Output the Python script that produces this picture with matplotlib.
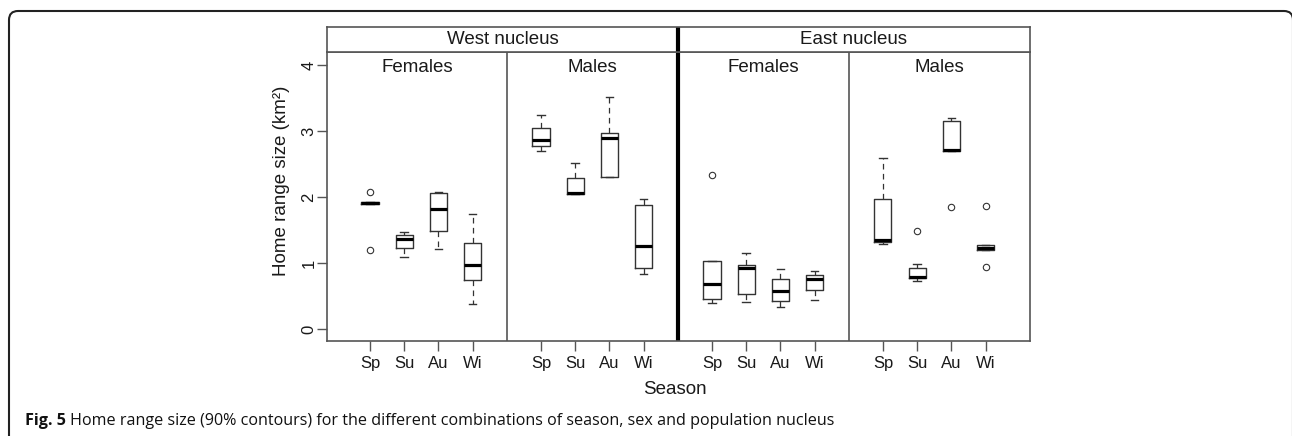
import matplotlib
matplotlib.use("Agg")
import matplotlib.pyplot as plt
from matplotlib.path import Path
from matplotlib.patches import PathPatch
from matplotlib.transforms import IdentityTransform

# groups: West females, West males, East females, East males
nuclei = ["West nucleus", "East nucleus"]
sexes = ["Females", "Males"]
seasons = ["Sp", "Su", "Au", "Wi"]

# box statistics (km^2), 4 groups x 4 seasons
q1 = [1.90, 1.23, 1.48, 0.74, 2.78, 2.05, 2.31, 0.93,
      0.45, 0.53, 0.43, 0.59, 1.32, 0.77, 2.70, 1.19]
med = [1.91, 1.37, 1.82, 0.97, 2.86, 2.06, 2.89, 1.25,
       0.68, 0.93, 0.58, 0.76, 1.35, 0.79, 2.71, 1.22]
q3 = [1.92, 1.42, 2.06, 1.31, 3.05, 2.29, 2.97, 1.88,
      1.03, 0.97, 0.76, 0.82, 1.97, 0.92, 3.15, 1.28]
whislo = [1.90, 1.09, 1.21, 0.38, 2.70, 2.05, 2.30, 0.84,
          0.40, 0.41, 0.33, 0.44, 1.29, 0.73, 2.70, 1.19]
whishi = [1.92, 1.47, 2.08, 1.74, 3.24, 2.52, 3.52, 1.97,
          1.03, 1.15, 0.91, 0.88, 2.59, 0.98, 3.19, 1.28]
fliers = [[2.07, 1.19], [], [], [], [], [], [], [],
          [2.33], [], [], [], [], [1.48], [1.85], [1.86, 0.94]]

LINE = "#555555"
TXT = "#1a1a1a"
plt.rcParams["font.family"] = ["Liberation Sans", "DejaVu Sans"]

W, H = 1292, 436
fig = plt.figure(figsize=(W / 100, H / 100), dpi=100)

# pixel boxes of the panel region and the strip
x0, x1 = 327, 1030
ytop, ybot, ystrip = 52, 341, 27
ax = fig.add_axes([x0 / W, 1 - ybot / H, (x1 - x0) / W, (ybot - ytop) / H])
sax = fig.add_axes([x0 / W, 1 - ytop / H, (x1 - x0) / W, (ytop - ystrip) / H])

positions = [g * 5 + i + 1 for g in range(4) for i in range(len(seasons))]
stats = []
for k in range(len(med)):
    stats.append(dict(med=med[k], q1=q1[k], q3=q3[k], whislo=whislo[k],
                      whishi=whishi[k], fliers=fliers[k]))

ax.bxp(stats, positions=positions, widths=0.5, capwidths=0.22,
       manage_ticks=False,
       boxprops=dict(color="#333333", lw=1.0),
       whiskerprops=dict(color="#333333", lw=0.9, dashes=(4.5, 3.5)),
       capprops=dict(color="#333333", lw=1.0),
       medianprops=dict(color="black", lw=2.3, solid_capstyle="butt"),
       flierprops=dict(marker="o", markersize=4.6, markerfacecolor="none",
                       markeredgecolor="#333333", markeredgewidth=0.8))

ax.set_xlim(-0.257, 20.30)
ax.set_ylim(-0.182, 4.197)

# panel dividers
ax.axvline(5, color=LINE, lw=1.2)
ax.axvline(15, color=LINE, lw=1.2)
ax.axvline(10, color="black", lw=3.0)

# panel titles
for g in range(4):
    left = -0.257 if g == 0 else g * 5
    right = 20.30 if g == 3 else (g + 1) * 5
    ax.text((left + right) / 2, 0.945, sexes[g % 2], transform=ax.get_xaxis_transform(),
            ha="center", va="center", fontsize=13.5, color=TXT)

ax.set_xticks(positions)
ax.set_xticklabels(seasons * 4)
ax.set_yticks([0, 1, 2, 3, 4])
ax.set_yticklabels(["0", "1", "2", "3", "4"], rotation=90, va="center")
ax.tick_params(axis="both", direction="out", length=7, width=1.0, color=LINE,
               labelsize=12, labelcolor=TXT)
ax.tick_params(axis="x", pad=3.5)
ax.tick_params(axis="y", pad=0.5)
for sp in ax.spines.values():
    sp.set_color(LINE)
    sp.set_linewidth(1.2)

# strip on top
sax.set_xlim(-0.257, 20.30)
sax.set_ylim(0, 1)
sax.set_xticks([])
sax.set_yticks([])
for sp in sax.spines.values():
    sp.set_color(LINE)
    sp.set_linewidth(1.2)
sax.axvline(10, color="black", lw=3.0)
sax.text((-0.257 + 10) / 2, 0.5, nuclei[0], ha="center", va="center",
         fontsize=13.5, color=TXT)
sax.text((10 + 20.30) / 2, 0.5, nuclei[1], ha="center", va="center",
         fontsize=13.5, color=TXT)

fig.text(282 / W, 1 - 181 / H, "Home range size (km²)", rotation=90,
         ha="center", va="center", fontsize=13.5, color=TXT)
fig.text(675 / W, 1 - 389 / H, "Season", ha="center", va="center",
         fontsize=13.5, color=TXT)

# caption
cap_y = 1 - 421 / H
t1 = fig.text(25 / W, cap_y, "Fig. 5", fontfamily="Open Sans", fontweight="bold",
              fontsize=11.6, ha="left", va="center", color="#111111")
fig.canvas.draw()
bb = t1.get_window_extent(renderer=fig.canvas.get_renderer())
fig.text((bb.x1 + 4) / W, cap_y,
         "Home range size (90% contours) for the different combinations of season, sex and population nucleus",
         fontfamily="Open Sans", fontsize=11.6, ha="left", va="center", color="#111111")

# rounded frame around the figure and caption (display pixels)
r = 9
verts = [(9, -10), (9, H - 11 - r), (9, H - 11), (9 + r, H - 11),
         (1293 - r, H - 11), (1293, H - 11), (1293, H - 11 - r), (1293, -10)]
codes = [Path.MOVETO, Path.LINETO, Path.CURVE3, Path.CURVE3,
         Path.LINETO, Path.CURVE3, Path.CURVE3, Path.LINETO]
frame = PathPatch(Path(verts, codes), facecolor="none", edgecolor="#222222",
                  lw=1.5, transform=IdentityTransform())
fig.patches.append(frame)

fig.savefig("out.png", dpi=100)
